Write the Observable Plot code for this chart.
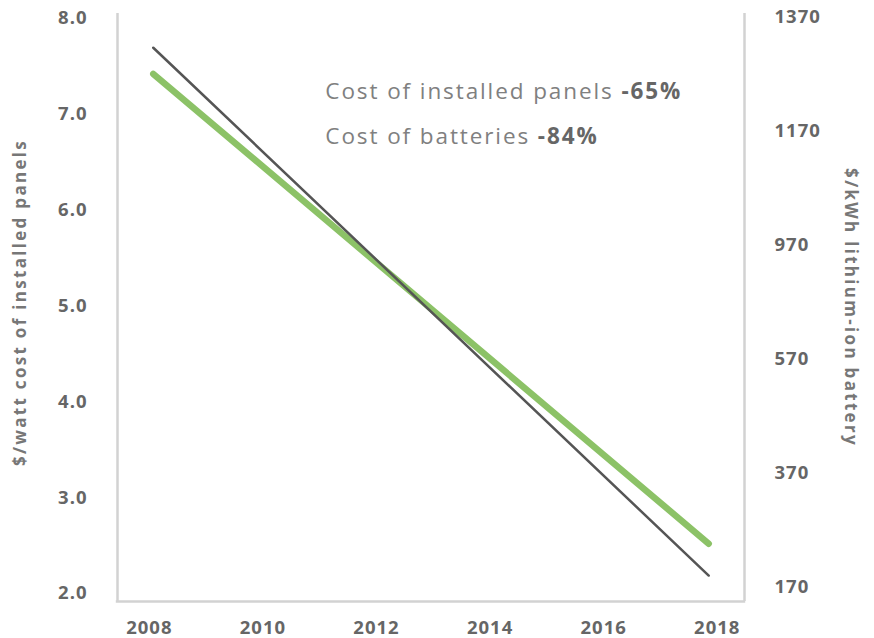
<!DOCTYPE html>
<html>
<head>
<meta charset="utf-8">
<script src="https://cdn.jsdelivr.net/npm/d3@7"></script>
<script src="https://cdn.jsdelivr.net/npm/@observablehq/plot@0.6"></script>
<style>
  html, body { margin: 0; padding: 0; background: #fff; }
  #chart svg { font-family: "Open Sans", Lato, sans-serif; }
  .tick-lbl text { font-weight: 700; fill: #666; letter-spacing: 1px; }
  .rtick text { letter-spacing: 1px; }
  .title text { letter-spacing: 2.3px; }
  .anno text { letter-spacing: 1.9px; }
</style>
</head>
<body>
<div id="chart"></div>
<script>
// ---- data ----
const years = [2008.07, 2017.85];
const panelCost = [7.42, 2.52];        // $/watt, left axis
const batteryCost = [1317, 191];       // $/kWh, right axis
const xTicks = [2008, 2010, 2012, 2014, 2016, 2018];
const leftTicks = [2, 3, 4, 5, 6, 7, 8];
const rightTicks = [170, 370, 570, 970, 1170, 1370];
const annoLabels = ["Cost of installed panels ", "Cost of batteries "];
const annoValues = ["-65%", "-84%"];
const leftTitle = "$/watt cost of installed panels";
const rightTitle = "$/kWh lithium-ion battery";

// ---- scales ----
const xDomain = [2007.44, 2018.48];
const yDomain = [1.917, 8.05];
// right-axis labels are evenly spaced on the chart: piecewise map onto left units
const rightToLeft = d3.scaleLinear()
  .domain(rightTicks)
  .range(rightTicks.map((_, i) => 2.063 + i * (8.008 - 2.063) / (rightTicks.length - 1)));

const panels = years.map((yr, i) => ({year: yr, v: panelCost[i]}));
const battery = years.map((yr, i) => ({year: yr, v: rightToLeft(batteryCost[i])}));
const rightTickData = rightTicks.map(t => ({t, v: rightToLeft(t)}));
const anno = annoLabels.map((l, i) => ({label: l, value: annoValues[i], year: 2011.1, v: 7.231 - i * 0.469}));

const axisColor = "#d2d2d2";

const plot = Plot.plot({
  width: 874,
  height: 638,
  marginLeft: 117,
  marginRight: 130,
  marginTop: 13,
  marginBottom: 37,
  x: {domain: xDomain, axis: null},
  y: {domain: yDomain, axis: null},
  marks: [
    Plot.ruleX([xDomain[0], xDomain[1]], {stroke: axisColor, strokeWidth: 2.5}),
    Plot.ruleY([yDomain[0]], {stroke: axisColor, strokeWidth: 2.5, insetLeft: -1.2, insetRight: -1.2}),
    Plot.axisX(xTicks, {label: null, tickSize: 0, tickPadding: 19, tickFormat: d => String(d), fontSize: 18.5, className: "tick-lbl"}),
    Plot.axisY(leftTicks, {label: null, anchor: "left", tickSize: 0, tickPadding: 30, tickFormat: d3.format(".1f"), fontSize: 18.5, className: "tick-lbl"}),
    Plot.text(rightTickData, {x: xDomain[1], y: "v", text: d => String(d.t), textAnchor: "start", dx: 30, fontSize: 18.5, fontWeight: 700, fill: "#666", className: "rtick"}),
    Plot.line(panels, {x: "year", y: "v", stroke: "#8cc267", strokeWidth: 6.5}),
    Plot.line(battery, {x: "year", y: "v", stroke: "#555", strokeWidth: 2.5}),
    Plot.text(anno, {x: "year", y: "v", text: "label", textAnchor: "start", fontSize: 22.5, fill: "#808080", fontWeight: 400, className: "anno"}),
    Plot.text([leftTitle], {frameAnchor: "left", textAnchor: "middle", dx: -97, dy: -5, rotate: -90, fontSize: 17, fontWeight: 700, fill: "#777", className: "title"}),
    Plot.text([rightTitle], {frameAnchor: "right", textAnchor: "middle", dx: 106, rotate: 90, fontSize: 17, fontWeight: 700, fill: "#777", className: "title"})
  ]
});

// append bold percentage as tspans
const annoTexts = plot.querySelectorAll("g.anno text");
annoTexts.forEach((t, i) => {
  const ts = document.createElementNS("http://www.w3.org/2000/svg", "tspan");
  ts.setAttribute("font-weight", "700");
  ts.setAttribute("fill", "#666");
  ts.textContent = anno[i].value;
  t.appendChild(ts);
});

document.getElementById("chart").appendChild(plot);
</script>
</body>
</html>
